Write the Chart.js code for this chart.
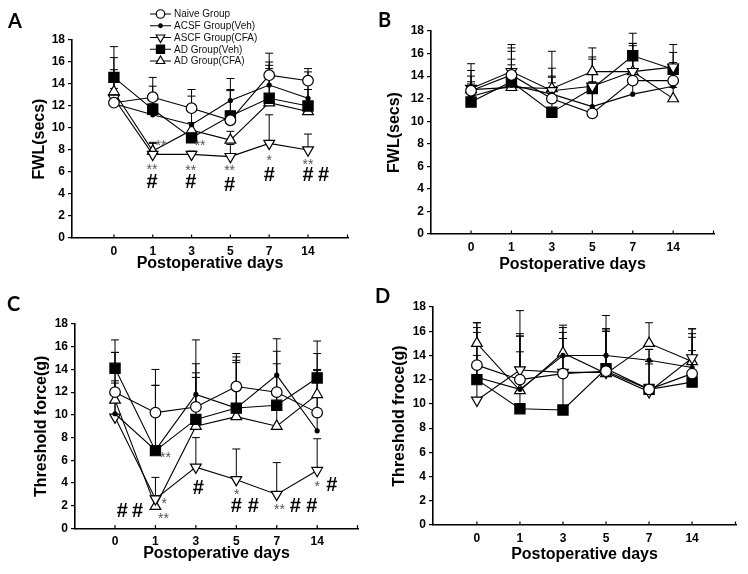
<!DOCTYPE html>
<html>
<head>
<meta charset="utf-8">
<script src="https://cdn.jsdelivr.net/npm/chart.js@4.4.1/dist/chart.umd.min.js"></script>
<style>
  html, body { margin: 0; padding: 0; background: #fff; }
  #wrap { position: relative; width: 748px; height: 574px; }
  .panel { position: absolute; width: 374px; height: 287px; }
</style>
</head>
<body>
<div id="wrap">
  <div class="panel" style="left:0;top:0"><canvas id="chartA"></canvas></div>
  <div class="panel" style="left:374px;top:0"><canvas id="chartB"></canvas></div>
  <div class="panel" style="left:0;top:287px"><canvas id="chartC"></canvas></div>
  <div class="panel" style="left:374px;top:287px"><canvas id="chartD"></canvas></div>
</div>
<script>
const FONT = "'Liberation Sans', Arial, sans-serif";

const dayLabels = ['0', '1', '3', '5', '7', '14'];
const groupNames = ['Naive Group', 'ACSF Group(Veh)', 'ASCF Group(CFA)', 'AD Group(Veh)', 'AD Group(CFA)'];

// A: FWL (secs), means and top of error bar
const aNaive = [12.3, 12.8, 11.8, 10.7, 14.8, 14.3];
const aAcsfVeh = [12.2, 11.2, 10.3, 12.5, 13.9, 12.7];
const aAcsfCfa = [12.7, 7.6, 7.6, 7.4, 8.6, 8.0];
const aAdVeh = [14.6, 11.7, 9.1, 11.1, 12.7, 12.0];
const aAdCfa = [13.3, 7.9, 9.8, 8.9, 12.3, 11.5];
const aNaiveCap = [15.3, 14.6, 13.5, 13.5, 16.8, 15.4];
const aAcsfVehCap = [14.2, 12.2, 12.9, 13.4, 16.0, 14.4];
const aAcsfCfaCap = [13.6, 8.7, 7.9, 8.5, 11.2, 9.45];
const aAdVehCap = [17.4, 13.8, 9.6, 14.5, 15.7, 15.1];
const aAdCfaCap = [16.4, 8.6, 10.5, 9.7, 15.4, 13.5];
const aMarks = [
  [1.21, 8.73, '**'], [2.22, 8.73, '**'],
  [0.98, 6.55, '**'], [0.98, 5.2, '#'],
  [1.98, 6.5, '**'], [1.98, 5.2, '#'],
  [2.98, 6.45, '**'], [2.98, 4.95, '#'],
  [4.0, 7.4, '*'], [4.0, 5.85, '#'],
  [5.0, 7.0, '**'], [5.0, 5.85, '#'], [5.4, 5.85, '#']
];

// B: FWL (secs)
const bNaive = [12.7, 14.1, 12.0, 10.7, 13.6, 13.6];
const bAcsfVeh = [12.2, 13.2, 12.4, 11.3, 12.4, 13.1];
const bAcsfCfa = [12.9, 14.4, 12.7, 13.1, 14.4, 14.8];
const bAdVeh = [11.7, 13.5, 10.8, 12.9, 15.8, 14.6];
const bAdCfa = [12.8, 13.0, 12.9, 14.4, 14.4, 12.0];
const bNaiveCap = [14.0, 15.5, 14.7, 13.5, 16.7, 15.2];
const bAcsfVehCap = [13.5, 15.0, 13.4, 15.7, 16.9, 16.1];
const bAcsfCfaCap = [15.1, 16.8, 14.0, 16.5, 17.8, 16.8];
const bAdVehCap = [14.5, 16.5, 16.2, 13.4, 16.9, 15.0];
const bAdCfaCap = [13.3, 16.2, 13.9, 15.5, 15.6, 13.0];

// C: threshold force (g)
const cNaive = [12.0, 10.2, 10.7, 12.5, 12.0, 10.2];
const cAcsfVeh = [10.1, 6.9, 11.8, 10.6, 13.5, 8.6];
const cAcsfCfa = [9.8, 2.6, 5.4, 4.3, 3.0, 5.1];
const cAdVeh = [14.1, 6.85, 9.6, 10.6, 10.85, 13.25];
const cAdCfa = [11.3, 1.95, 9.0, 9.85, 9.0, 11.8];
const cNaiveCap = [16.6, 14.0, 14.5, 15.1, 15.6, 14.0];
const cAcsfVehCap = [15.5, 12.6, 13.7, 14.6, 16.7, 13.9];
const cAcsfCfaCap = [12.8, 4.5, 8.0, 7.0, 5.8, 7.9];
const cAdVehCap = [15.5, 12.6, 16.6, 15.4, 14.5, 16.5];
const cAdCfaCap = [13.0, 2.9, 13.3, 14.8, 12.0, 15.4];
const cMarks = [
  [0.18, 1.66, '#'], [0.56, 1.66, '#'],
  [1.25, 6.55, '**'], [1.22, 2.5, '*'], [1.2, 1.16, '**'],
  [2.06, 3.66, '#'],
  [3.01, 3.3, '*'], [3.0, 2.05, '#'], [3.42, 2.05, '#'],
  [4.07, 2.0, '**'], [4.46, 2.05, '#'], [4.87, 2.05, '#'],
  [5.0, 4.0, '*'], [5.36, 3.95, '#']
];

// D: threshold froce (g)
const dNaive = [13.2, 12.0, 12.5, 12.7, 11.2, 12.5];
const dAcsfVeh = [12.2, 11.2, 14.0, 14.0, 13.6, 13.0];
const dAcsfCfa = [10.3, 12.8, 12.6, 12.6, 11.0, 13.8];
const dAdVeh = [12.0, 9.6, 9.5, 12.9, 11.2, 11.8];
const dAdCfa = [15.0, 11.1, 14.2, 12.5, 15.0, 13.5];
const dNaiveCap = [16.3, 15.8, 15.9, 16.2, 13.3, 14.4];
const dAcsfVehCap = [15.9, 14.3, 16.3, 17.3, 14.5, 15.8];
const dAcsfCfaCap = [16.7, 17.7, 16.5, 16.0, 14.5, 16.2];
const dAdVehCap = [14.0, 15.6, 15.4, 16.0, 13.5, 15.5];
const dAdCfaCap = [16.7, 15.6, 14.0, 16.2, 16.7, 16.2];

// marker look for each group, same order as groupNames
const markers = [
  { pointStyle: 'circle', radius: 5.3, bg: '#fff', rotation: 0 },
  { pointStyle: 'circle', radius: 2, bg: '#000', rotation: 0 },
  { pointStyle: 'triangle', radius: 6.2, bg: '#fff', rotation: 180 },
  { pointStyle: 'rect', radius: 7.2, bg: '#000', rotation: 0 },
  { pointStyle: 'triangle', radius: 6.2, bg: '#fff', rotation: 0 }
];

function drawMarker(ctx, m, x, y, r) {
  ctx.fillStyle = m.bg;
  ctx.strokeStyle = '#000';
  ctx.lineWidth = 1.2;
  Chart.helpers.drawPoint(ctx, { pointStyle: m.pointStyle, radius: r || m.radius, rotation: m.rotation, borderWidth: 1.2 }, x, y);
}

const decor = {
  id: 'decor',
  beforeDatasetsDraw(chart) {
    const { ctx, scales: { x, y } } = chart;
    ctx.save();
    ctx.strokeStyle = '#000';
    ctx.lineWidth = 1;
    chart.data.datasets.forEach(ds => {
      ds.caps.forEach((cap, i) => {
        const px = x.getPixelForValue(i);
        const py0 = y.getPixelForValue(ds.data[i].y);
        const py1 = y.getPixelForValue(cap);
        ctx.beginPath();
        ctx.moveTo(px, py0);
        ctx.lineTo(px, py1);
        ctx.moveTo(px - 4, py1);
        ctx.lineTo(px + 4, py1);
        ctx.stroke();
      });
    });
    ctx.restore();
  },
  afterDraw(chart, args, opts) {
    const { ctx, chartArea, scales: { x, y } } = chart;
    ctx.save();
    // small inward ticks on the x axis
    ctx.strokeStyle = '#000';
    ctx.lineWidth = 1.2;
    const tickXs = dayLabels.map((_, i) => x.getPixelForValue(i)).concat([chartArea.right - 0.5]);
    tickXs.forEach(px => {
      ctx.beginPath();
      ctx.moveTo(px, chartArea.bottom);
      ctx.lineTo(px, chartArea.bottom - 3.5);
      ctx.stroke();
    });
    // significance marks
    (opts.marks || []).forEach(([xi, v, t]) => {
      const px = x.getPixelForValue(xi);
      const py = y.getPixelForValue(v);
      ctx.textAlign = 'center';
      ctx.textBaseline = 'alphabetic';
      if (t === '#') {
        ctx.fillStyle = '#000';
        ctx.font = 'bold 20px ' + FONT;
        ctx.fillText(t, px, py + 7);
      } else {
        ctx.fillStyle = '#555';
        ctx.font = '14px ' + FONT;
        ctx.fillText(t, px, py + 8);
      }
    });
    // panel letter
    ctx.fillStyle = '#000';
    ctx.font = 'bold 20px Lato, ' + FONT;
    ctx.textAlign = 'center';
    ctx.textBaseline = 'middle';
    ctx.fillText(opts.letter, opts.letterX, opts.letterY);
    // legend (panel A only)
    if (opts.legend) {
      groupNames.forEach((name, i) => {
        const ly = 14 + i * 11.75;
        ctx.strokeStyle = '#000';
        ctx.lineWidth = 1;
        ctx.beginPath();
        ctx.moveTo(150, ly);
        ctx.lineTo(171, ly);
        ctx.stroke();
        const m = markers[i];
        drawMarker(ctx, m, 160.5, ly, i === 1 ? 1.8 : m.radius * 0.8);
        ctx.fillStyle = '#111';
        ctx.font = '10px ' + FONT;
        ctx.textAlign = 'left';
        ctx.textBaseline = 'middle';
        ctx.fillText(name, 174, ly + 0.5);
      });
    }
    ctx.restore();
  }
};

function makeDatasets(means, caps) {
  return means.map((vals, g) => ({
    label: groupNames[g],
    data: vals.map((v, i) => ({ x: i, y: v })),
    caps: caps[g],
    borderColor: '#000',
    borderWidth: 1.1,
    pointStyle: markers[g].pointStyle,
    pointRadius: markers[g].radius,
    pointRotation: markers[g].rotation,
    pointBackgroundColor: markers[g].bg,
    pointBorderColor: '#000',
    pointBorderWidth: 1.2,
    tension: 0,
    fill: false
  }));
}

function makeChart(id, cfg) {
  new Chart(document.getElementById(id), {
    type: 'line',
    data: { datasets: makeDatasets(cfg.means, cfg.caps) },
    options: {
      responsive: true,
      maintainAspectRatio: false,
      animation: false,
      events: [],
      layout: { padding: cfg.pad },
      plugins: {
        legend: { display: false },
        tooltip: { enabled: false },
        decor: { marks: cfg.marks, letter: cfg.letter, letterX: cfg.letterX, letterY: cfg.letterY, legend: cfg.legend }
      },
      scales: {
        x: {
          type: 'linear',
          min: cfg.xMin,
          max: cfg.xMax,
          afterBuildTicks: s => { s.ticks = dayLabels.map((_, i) => ({ value: i })); },
          afterFit: s => { s.height = cfg.xH; },
          grid: { display: false, drawTicks: false, tickLength: 0 },
          border: { display: true, color: '#000', width: 1.6 },
          ticks: {
            autoSkip: false,
            maxRotation: 0,
            padding: 6,
            color: '#000',
            font: { family: FONT, size: 12, weight: 'bold' },
            callback: v => dayLabels[v]
          },
          title: {
            display: true,
            text: 'Postoperative days',
            color: '#000',
            font: { family: FONT, size: 16, weight: 'bold' },
            padding: { top: 4, bottom: 4 }
          }
        },
        y: {
          min: 0,
          max: 18,
          afterFit: s => { s.width = cfg.yW; },
          grid: { display: true, drawOnChartArea: false, drawTicks: true, tickLength: 4, color: '#000', lineWidth: 1.2 },
          border: { display: true, color: '#000', width: 1.6 },
          ticks: {
            stepSize: 2,
            padding: 3,
            color: '#000',
            font: { family: FONT, size: 12, weight: 'bold' }
          },
          title: {
            display: true,
            text: cfg.yTitle,
            color: '#000',
            font: { family: FONT, size: 16, weight: 'bold' },
            padding: { top: 4, bottom: 4 }
          }
        }
      }
    },
    plugins: [decor]
  });
}

makeChart('chartA', {
  means: [aNaive, aAcsfVeh, aAcsfCfa, aAdVeh, aAdCfa],
  caps: [aNaiveCap, aAcsfVehCap, aAcsfCfaCap, aAdVehCap, aAdCfaCap],
  marks: aMarks, letter: 'A', letterX: 15, letterY: 22, legend: true,
  yTitle: 'FWL(secs)',
  pad: { left: 26.4, top: 40, right: 26, bottom: 10 }, yW: 45.6, xH: 39,
  xMin: -1.08, xMax: 6.03
});
makeChart('chartB', {
  means: [bNaive, bAcsfVeh, bAcsfCfa, bAdVeh, bAdCfa],
  caps: [bNaiveCap, bAcsfVehCap, bAcsfCfaCap, bAdVehCap, bAdCfaCap],
  marks: [], letter: 'B', letterX: 10.5, letterY: 21,
  yTitle: 'FWL(secs)',
  pad: { left: 7.4, top: 31, right: 34, bottom: 8.4 }, yW: 49.6, xH: 44.6,
  xMin: -0.99, xMax: 6.01
});
makeChart('chartC', {
  means: [cNaive, cAcsfVeh, cAcsfCfa, cAdVeh, cAdCfa],
  caps: [cNaiveCap, cAcsfVehCap, cAcsfCfaCap, cAdVehCap, cAdCfaCap],
  marks: cMarks, letter: 'C', letterX: 13.5, letterY: 18,
  yTitle: 'Threshold force(g)',
  pad: { left: 28.4, top: 37, right: 16, bottom: 6.4 }, yW: 46.6, xH: 39.1,
  xMin: -0.99, xMax: 6.01
});
makeChart('chartD', {
  means: [dNaive, dAcsfVeh, dAcsfCfa, dAdVeh, dAdCfa],
  caps: [dNaiveCap, dAcsfVehCap, dAcsfCfaCap, dAdVehCap, dAdCfaCap],
  marks: [], letter: 'D', letterX: 8.5, letterY: 10,
  yTitle: 'Threshold froce(g)',
  pad: { left: 12.4, top: 20, right: 12, bottom: 5.4 }, yW: 46.6, xH: 43.6,
  xMin: -1.02, xMax: 6.02
});
</script>
</body>
</html>
